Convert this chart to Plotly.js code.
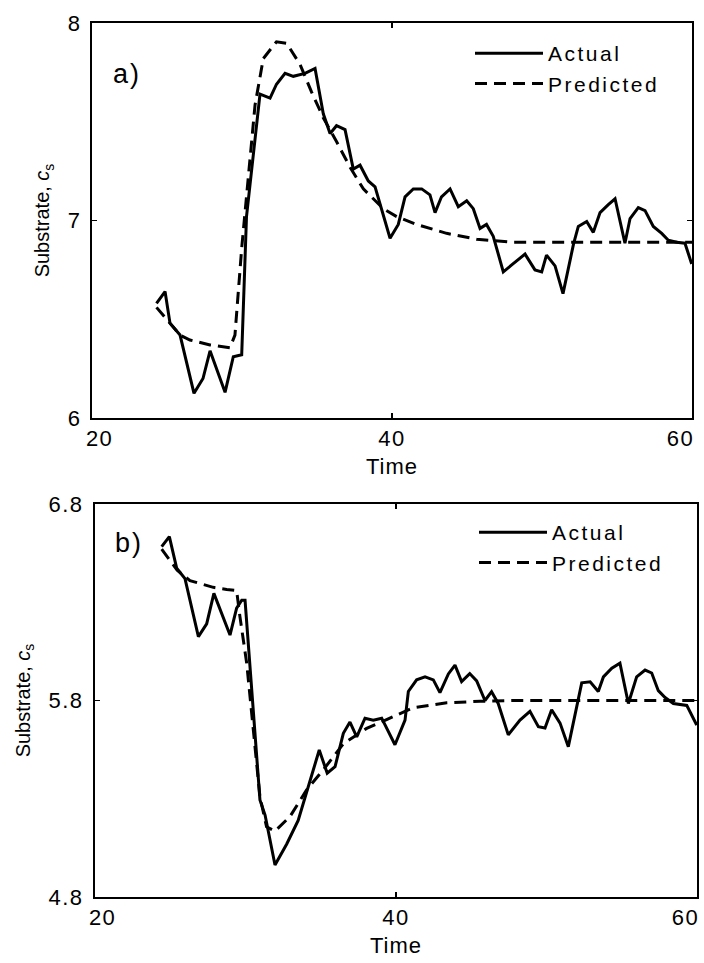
<!DOCTYPE html>
<html>
<head>
<meta charset="utf-8">
<script src="https://cdn.plot.ly/plotly-3.0.1.min.js"></script>
<style>
  html, body { margin: 0; padding: 0; background: #fff; }
  #chart { width: 704px; height: 963px; }
  #chart .infolayer g[class^="legend"] text, #chart text.legendtext { letter-spacing: 2.5px !important; }
  #chart .xtick text, #chart .ytick text, #chart .x2tick text, #chart .y2tick text { letter-spacing: 1.5px !important; }
  #chart .g-xtitle text, #chart .g-x2title text { letter-spacing: 1px !important; }
  #chart .annotation-text { letter-spacing: 2px !important; }
</style>
</head>
<body>
<div id="chart"></div>
<script>
// ---- Panel a) ----
const timeActualA = [24.3, 24.87, 25.2, 25.87, 26.8, 27.4, 27.87, 28.87, 29.42, 29.98, 30.3, 31.2, 31.87, 32.3, 32.87, 33.42, 34.2, 34.87, 35.42, 35.87, 36.3, 36.87, 37.42, 37.87, 38.42, 38.87, 39.87, 40.42, 40.87, 41.42, 41.98, 42.53, 42.87, 43.3, 43.87, 44.42, 44.98, 45.42, 45.87, 46.3, 46.75, 47.42, 47.98, 48.87, 49.53, 49.98, 50.3, 50.87, 51.4, 52.1, 52.42, 52.98, 53.42, 53.87, 54.42, 54.87, 55.53, 55.87, 56.42, 56.87, 57.42, 57.98, 58.42, 58.98, 59.53, 59.98];
const actualA = [6.58, 6.64, 6.48, 6.42, 6.125, 6.2, 6.34, 6.13, 6.31, 6.32, 7.02, 7.64, 7.62, 7.69, 7.745, 7.73, 7.745, 7.77, 7.54, 7.44, 7.48, 7.46, 7.26, 7.28, 7.2, 7.17, 6.91, 6.98, 7.12, 7.16, 7.16, 7.13, 7.04, 7.12, 7.16, 7.07, 7.10, 7.06, 6.96, 6.98, 6.92, 6.74, 6.775, 6.83, 6.75, 6.74, 6.825, 6.77, 6.63, 6.88, 6.97, 6.995, 6.94, 7.04, 7.08, 7.11, 6.885, 7.01, 7.065, 7.05, 6.97, 6.935, 6.90, 6.89, 6.885, 6.78];
const timePredA = [24.3, 25.87, 26.53, 27.87, 29.2, 29.53, 29.98, 30.42, 30.87, 31.42, 32.3, 32.98, 33.87, 34.64, 35.42, 36.3, 37.2, 38.09, 39.42, 40.31, 41.64, 43.64, 45.64, 48.09, 52, 56, 60];
const predA = [6.56, 6.42, 6.395, 6.37, 6.356, 6.42, 6.86, 7.23, 7.585, 7.82, 7.905, 7.897, 7.79, 7.65, 7.52, 7.40, 7.27, 7.16, 7.06, 7.02, 6.98, 6.935, 6.905, 6.89, 6.89, 6.89, 6.89];

// ---- Panel b) ----
const timeActualB = [24.43, 24.94, 25.43, 25.98, 26.87, 27.42, 27.9, 28.97, 29.41, 29.75, 29.97, 30.96, 31.3, 31.96, 32.74, 33.5, 34.9, 35.43, 35.95, 36.5, 36.94, 37.39, 37.94, 38.49, 39.05, 39.93, 40.6, 40.82, 41.37, 41.93, 42.48, 42.92, 43.48, 43.92, 44.36, 44.9, 45.36, 45.91, 46.35, 46.79, 47.46, 48.24, 48.9, 49.46, 49.9, 50.34, 50.9, 51.45, 52.34, 52.9, 53.44, 53.78, 54.34, 54.88, 55.44, 55.99, 56.55, 56.99, 57.43, 57.88, 58.43, 59.32, 59.98];
const actualB = [6.583, 6.634, 6.473, 6.42, 6.125, 6.19, 6.345, 6.133, 6.27, 6.31, 6.31, 5.294, 5.217, 4.963, 5.07, 5.19, 5.548, 5.43, 5.463, 5.633, 5.69, 5.615, 5.71, 5.70, 5.71, 5.575, 5.70, 5.846, 5.905, 5.92, 5.905, 5.84, 5.935, 5.98, 5.896, 5.937, 5.90, 5.80, 5.845, 5.785, 5.625, 5.70, 5.745, 5.667, 5.66, 5.753, 5.685, 5.565, 5.89, 5.895, 5.846, 5.92, 5.964, 5.99, 5.785, 5.92, 5.955, 5.94, 5.85, 5.815, 5.785, 5.775, 5.675];
const timePredB = [24.43, 25.46, 26.31, 27.86, 28.75, 29.41, 29.63, 30.08, 30.52, 30.96, 31.4, 31.96, 32.96, 34.06, 35.17, 36.5, 38.05, 39.6, 41.15, 43.37, 45.58, 47.8, 52, 56, 60];
const predB = [6.57, 6.463, 6.41, 6.376, 6.365, 6.36, 6.227, 5.99, 5.65, 5.31, 5.157, 5.135, 5.21, 5.345, 5.447, 5.58, 5.658, 5.71, 5.763, 5.788, 5.796, 5.80, 5.80, 5.80, 5.80];

const seriesNames = ['Actual', 'Predicted'];
const xTicks = [20, 40, 60];
const xTickLabels = ['20', '40', '60'];
const yTicksA = [6, 7, 8];
const yTicksB = [4.8, 5.8, 6.8];
const panelLabels = ['a)', 'b)'];

const W = 704, H = 963;
const px = v => v / W;
const py = v => 1 - v / H;
const NB = '\u00a0';
// pad the end labels so they sit inside the frame as in the original figure
const xTickText = xTickLabels.map((t, i) => i === 0 ? NB.repeat(2) + t : (i === xTickLabels.length - 1 ? t + NB.repeat(3) : t));

const solid = { color: '#000', width: 3 };
const dashed = { color: '#000', width: 3, dash: '12px,7px' };

const traces = [
  { x: timeActualA, y: actualA, name: seriesNames[0], type: 'scatter', mode: 'lines', line: solid, xaxis: 'x', yaxis: 'y', legend: 'legend' },
  { x: timePredA, y: predA, name: seriesNames[1], type: 'scatter', mode: 'lines', line: dashed, xaxis: 'x', yaxis: 'y', legend: 'legend' },
  { x: timeActualB, y: actualB, name: seriesNames[0], type: 'scatter', mode: 'lines', line: solid, xaxis: 'x2', yaxis: 'y2', legend: 'legend2' },
  { x: timePredB, y: predB, name: seriesNames[1], type: 'scatter', mode: 'lines', line: dashed, xaxis: 'x2', yaxis: 'y2', legend: 'legend2' }
];

const fontFam = '"Liberation Sans", Arial, sans-serif';
const tickFont = { family: fontFam, size: 22, color: '#000' };

function xAxis(domain, anchor) {
  return {
    domain: domain, anchor: anchor, range: [20, 60],
    tickvals: xTicks, ticktext: xTickText,
    ticks: 'inside', ticklen: 5, tickwidth: 1.5, tickcolor: '#000',
    showline: true, linecolor: '#000', linewidth: 2, mirror: 'ticks',
    showgrid: false, zeroline: false, tickfont: tickFont,
    ticklabeloverflow: 'allow',
    title: { text: 'Time', font: { family: fontFam, size: 22, color: '#000' }, standoff: 8 }
  };
}
function yAxis(domain, anchor, range, ticks, lblStandoff, titleStandoff) {
  return {
    domain: domain, anchor: anchor, range: range,
    tickvals: ticks, ticktext: ticks.map(String),
    ticks: 'inside', ticklen: 5, tickwidth: 1.5, tickcolor: '#000',
    showline: true, linecolor: '#000', linewidth: 2, mirror: 'ticks',
    showgrid: false, zeroline: false, tickfont: tickFont,
    ticklabeloverflow: 'allow', ticklabelstandoff: lblStandoff,
    title: { text: 'Substrate, <i>c</i><sub>s</sub>', font: { family: fontFam, size: 20, color: '#000' }, standoff: titleStandoff }
  };
}

const legendBase = {
  bgcolor: 'rgba(0,0,0,0)', borderwidth: 0,
  font: { family: fontFam, size: 21, color: '#000' },
  itemwidth: 68, xanchor: 'left', yanchor: 'top', tracegroupgap: 0
};

const layout = {
  width: W, height: H,
  margin: { l: 0, r: 0, t: 0, b: 0 },
  paper_bgcolor: '#fff', plot_bgcolor: '#fff',
  showlegend: true,
  xaxis: xAxis([px(92), px(692)], 'y'),
  yaxis: yAxis([py(418), py(23)], 'x', [6, 8], yTicksA, 4, 14),
  xaxis2: xAxis([px(95), px(697)], 'y2'),
  yaxis2: yAxis([py(897), py(504)], 'x2', [4.8, 6.8], yTicksB, 5, 17),
  legend: Object.assign({}, legendBase, { x: px(470), y: py(33) }),
  legend2: Object.assign({}, legendBase, { x: px(474), y: py(512) }),
  annotations: [
    { text: panelLabels[0], xref: 'paper', yref: 'paper', x: px(127), y: py(74), xanchor: 'center', yanchor: 'middle', showarrow: false, font: { family: fontFam, size: 27, color: '#000' } },
    { text: panelLabels[1], xref: 'paper', yref: 'paper', x: px(129), y: py(543), xanchor: 'center', yanchor: 'middle', showarrow: false, font: { family: fontFam, size: 27, color: '#000' } }
  ]
};

function fixText() {
  document.querySelectorAll('#chart .infolayer > g').forEach(g => {
    const cls = g.getAttribute('class') || '';
    if (!/^legend/.test(cls)) return;
    g.querySelectorAll('[clip-path]').forEach(n => n.removeAttribute('clip-path'));
    g.querySelectorAll('text').forEach(t => { t.style.letterSpacing = '2.5px'; });
  });
}

const gd = document.getElementById('chart');
Plotly.newPlot(gd, traces, layout, { staticPlot: true, displayModeBar: false }).then(() => {
  fixText();
  gd.on('plotly_afterplot', fixText);
  setTimeout(fixText, 50);
  setTimeout(fixText, 300);
});
</script>
</body>
</html>
